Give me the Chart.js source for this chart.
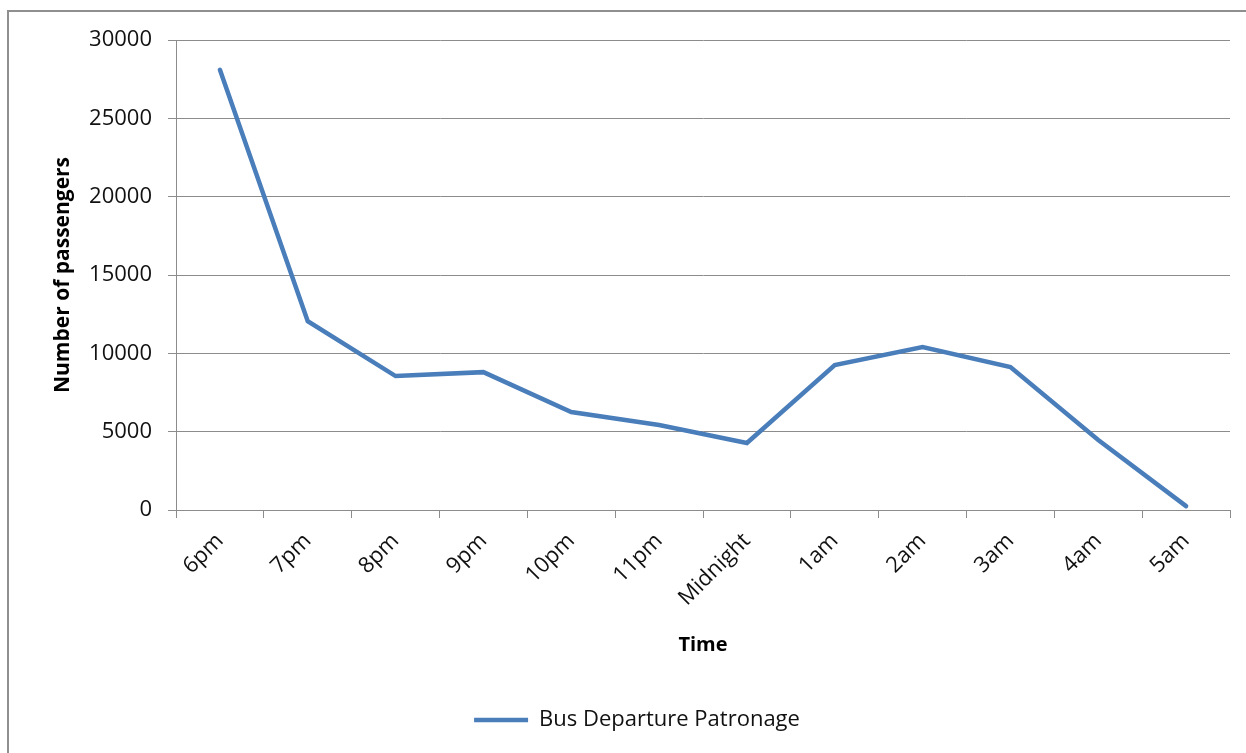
<!DOCTYPE html>
<html>
<head>
<meta charset="utf-8">
<script src="https://cdn.jsdelivr.net/npm/chart.js@4.4.1/dist/chart.umd.min.js"></script>
<style>
  html, body { margin: 0; padding: 0; background: #fff; overflow: hidden; }
  #frame { position: absolute; left: 7px; top: 10px; width: 1300px; height: 800px; border: 2px solid #8f8f8f; }
  #wrap { position: absolute; left: 0; top: 0; width: 1246px; height: 753px; }
</style>
</head>
<body>
<div id="frame"></div>
<div id="wrap"><canvas id="busChart" width="1246" height="753"></canvas></div>
<script>
const timeLabels = ['6pm', '7pm', '8pm', '9pm', '10pm', '11pm', 'Midnight', '1am', '2am', '3am', '4am', '5am'];
const passengers = [28100, 12050, 8550, 8800, 6250, 5430, 4280, 9250, 10400, 9130, 4470, 250];
const yTicks = [0, 5000, 10000, 15000, 20000, 25000, 30000];

const lineBlue = '#4a7ebb';
const gridGrey = '#8c8c8c';

const ctx = document.getElementById('busChart').getContext('2d');
const busChart = new Chart(ctx, {
    type: 'line',
    data: {
        labels: timeLabels,
        datasets: [{
            label: 'Bus Departure Patronage',
            data: passengers,
            borderColor: lineBlue,
            backgroundColor: lineBlue,
            borderWidth: 4.5,
            borderCapStyle: 'round',
            pointRadius: 0,
            tension: 0
        }]
    },
    options: {
        responsive: false,
        devicePixelRatio: 1,
        animation: false,
        layout: {
            // left padding also centres the legend under the plot like the original
            padding: { top: 40, right: 16, bottom: 12, left: 44 }
        },
        scales: {
            x: {
                offset: true,
                grid: {
                    offset: true,
                    drawOnChartArea: false,
                    color: gridGrey,
                    tickLength: 8
                },
                border: { color: gridGrey, width: 1 },
                ticks: {
                    minRotation: 45,
                    maxRotation: 45,
                    padding: 10,
                    color: '#111',
                    font: { family: 'Open Sans', size: 22 }
                },
                title: {
                    display: true,
                    text: 'Time',
                    color: '#000',
                    font: { family: 'Open Sans', size: 20, weight: 'bold', lineHeight: 1.2 },
                    padding: { top: 0, bottom: 42 }
                },
                afterFit: function(scale) { scale.height = 189; }
            },
            y: {
                min: 0,
                max: 30000,
                afterBuildTicks: function(scale) {
                    scale.ticks = yTicks.map(v => ({ value: v }));
                },
                grid: {
                    color: gridGrey,
                    tickLength: 8
                },
                border: { color: gridGrey, width: 1 },
                ticks: {
                    padding: 16,
                    color: '#111',
                    font: { family: 'Open Sans', size: 22 },
                    callback: function(value) { return String(value); }
                },
                title: {
                    display: true,
                    text: 'Number of passengers',
                    color: '#000',
                    font: { family: 'Open Sans', size: 21, weight: 'bold', lineHeight: 1.2 },
                    padding: { top: 6, bottom: 0 }
                },
                afterFit: function(scale) { scale.width = 132; }
            }
        },
        plugins: {
            legend: {
                position: 'bottom',
                labels: {
                    usePointStyle: true,
                    pointStyle: 'line',
                    pointStyleWidth: 54,
                    padding: 10,
                    color: '#111',
                    font: { family: 'Open Sans', size: 22 }
                }
            },
            tooltip: { enabled: false }
        }
    }
});
</script>
</body>
</html>
